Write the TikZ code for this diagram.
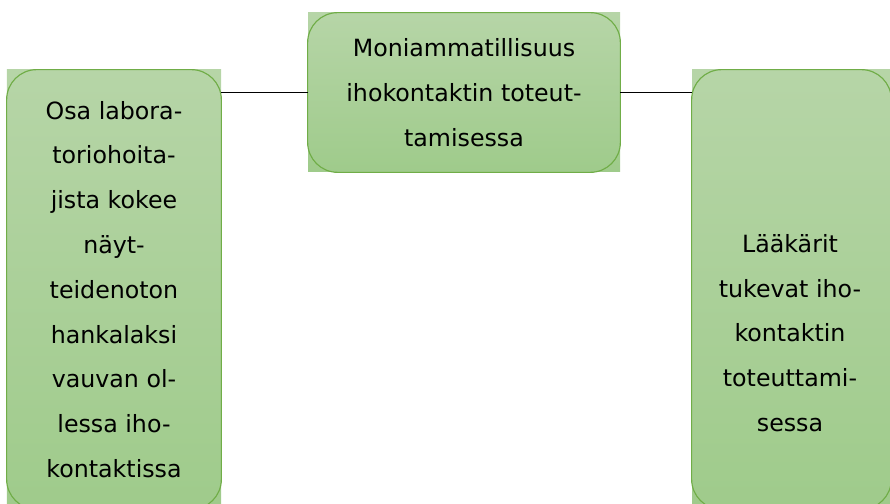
\documentclass[tikz,border=0pt]{standalone}
\usepackage{fontspec}
\setmainfont{DejaVu Sans}
\usepackage{xcolor}
\definecolor{boxtop}{RGB}{182,213,167}
\definecolor{boxbot}{RGB}{159,203,139}
\definecolor{boxline}{RGB}{112,173,71}
\newcommand{\boxfont}{\fontsize{13.5}{25.5}\selectfont}
\tikzset{
	topicbox/.style={rectangle, top color=boxtop, bottom color=boxbot, draw=none, inner sep=0pt, align=center, font=\boxfont},
	boxframe/.style={draw=boxline, line width=0.65pt, rounded corners=0.6cm},
	boxtext/.style={align=center, font=\boxfont},
	joinline/.style={draw=black, line width=1.1pt}
}

\begin{document}
\begin{tikzpicture}
		%\draw[help lines] (0,0) grid (18,10);
		\clip (0,0) rectangle (17.8,10.08);
		
		\node[topicbox, minimum width=6.24cm, minimum height=3.18cm] (moni) at (9.28,8.23) {Moniammatillisuus\\ihokontaktin toteut-\\tamisessa};%top
		\node[topicbox, minimum width=4.28cm, minimum height=8.78cm] (labra) at (2.28,4.29) {Osa labora-\\toriohoita-\\jista kokee\\näyt-\\teidenoton\\hankalaksi\\vauvan ol-\\lessa iho-\\kontaktissa};%left
		\node[topicbox, minimum width=3.98cm, minimum height=8.78cm] (laakarit) at (15.83,4.29) {};%right
		\node[boxtext] (laakariteksti) at (15.80,3.42) {Lääkärit\\tukevat iho-\\kontaktin\\toteuttami-\\sessa};
		
		\draw[boxframe] (moni.south west) rectangle (moni.north east);%frames
		\draw[boxframe] (labra.south west) rectangle (labra.north east);
		\draw[boxframe] (laakarit.south west) rectangle (laakarit.north east);
		
		\draw[joinline] (moni.west) -- (moni.west -| labra.east);
		\draw[joinline] (moni.east) -- (moni.east -| laakarit.west);
\end{tikzpicture}
\end{document}
